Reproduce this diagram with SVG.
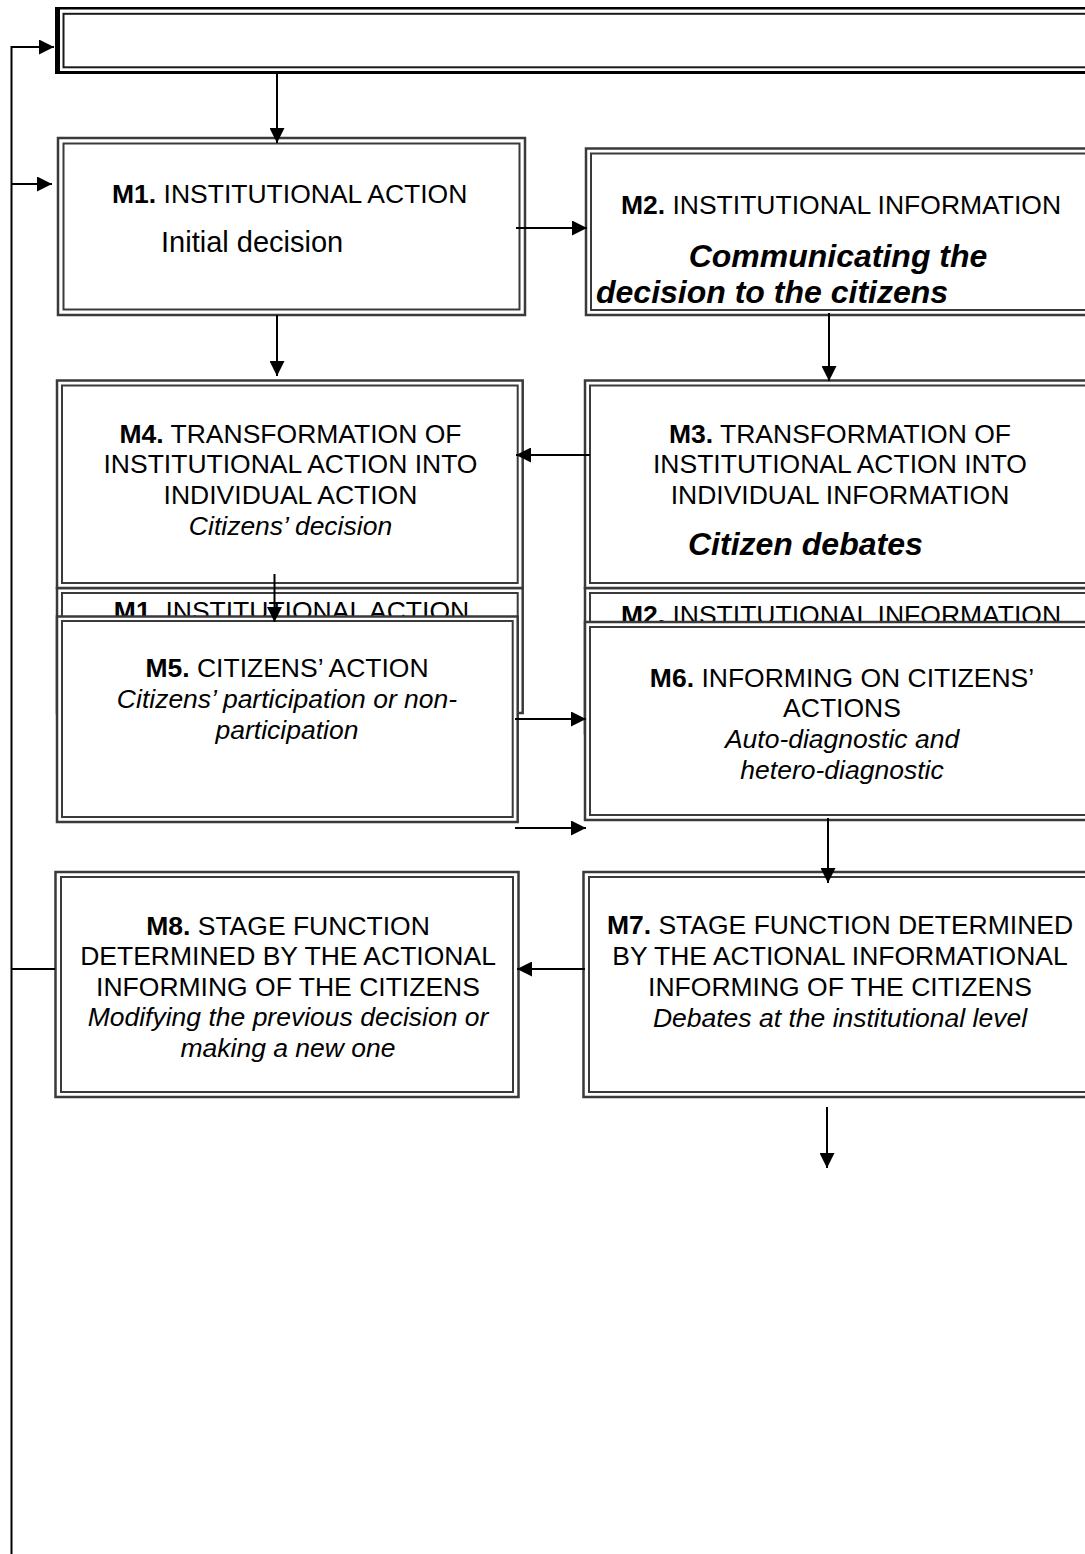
<svg xmlns="http://www.w3.org/2000/svg" width="1085" height="1554" viewBox="0 0 1085 1554">
<style>
.o{fill:#fff;stroke:#3a3a3a;stroke-width:2.5}
.h{fill:#fff;stroke:#3a3a3a;stroke-width:2.5}
.i{fill:none;stroke:#3a3a3a;stroke-width:2}
text{font-family:"Liberation Sans",Arial,sans-serif;font-size:26.5px;fill:#000}
.c{text-anchor:middle}
.it{font-style:italic}
.bi{font-style:italic;font-weight:bold;font-size:32px}
.b{font-weight:bold}
.cn{fill:none;stroke:#000;stroke-width:2}
</style>
<defs>
<marker id="ah" viewBox="0 0 10 10" refX="10" refY="5" markerUnits="userSpaceOnUse" markerWidth="16" markerHeight="15" orient="auto">
<path d="M0,0 L10,5 L0,10 z" fill="#000"/>
</marker>
</defs>
<rect width="1085" height="1554" fill="#fff"/>

<g id="top">
<rect x="55" y="7" width="5" height="67" fill="#000"/>
<line x1="55" y1="8.3" x2="1100" y2="8.3" stroke="#000" stroke-width="2.6"/>
<line x1="55" y1="72.5" x2="1100" y2="72.5" stroke="#000" stroke-width="3"/>
<rect x="63.5" y="13.8" width="1100" height="53.5" fill="none" stroke="#1a1a1a" stroke-width="2"/>
</g>

<g id="M1">
<rect class="o" x="58" y="138" width="467" height="177"/>
<rect class="i" x="63.5" y="143.5" width="456" height="166"/>
<text x="112" y="203"><tspan class="b">M1.</tspan> INSTITUTIONAL ACTION</text>
<text x="161" y="252" style="font-size:29px">Initial decision</text>
</g>

<g id="M2">
<rect class="o" x="586" y="148.5" width="520" height="166.5"/>
<rect class="i" x="591" y="153.5" width="520" height="156.5"/>
<text class="c" x="841" y="214"><tspan class="b">M2.</tspan> INSTITUTIONAL INFORMATION</text>
<text class="bi c" x="838" y="267">Communicating the</text>
<text class="bi" x="596" y="303">decision to the citizens</text>
</g>

<g id="M1copy">
<rect class="h" x="57" y="588" width="465.7" height="125"/>
<rect class="i" x="62" y="593" width="455.7" height="115"/>
<text class="c" x="291.5" y="619.5"><tspan class="b">M1.</tspan> INSTITUTIONAL ACTION</text>
</g>

<g id="M2copy">
<rect class="h" x="585" y="588" width="520" height="145"/>
<rect class="i" x="590" y="593" width="520" height="135"/>
<text class="c" x="841" y="623.5"><tspan class="b">M2.</tspan> INSTITUTIONAL INFORMATION</text>
</g>

<g id="M4">
<rect class="o" x="57" y="380.5" width="465.7" height="207.5"/>
<rect class="i" x="62" y="385.5" width="455.7" height="197.5"/>
<text class="c" x="290.5" y="442.5"><tspan class="b">M4.</tspan> TRANSFORMATION OF</text>
<text class="c" x="290.5" y="473">INSTITUTIONAL ACTION INTO</text>
<text class="c" x="290.5" y="503.5">INDIVIDUAL ACTION</text>
<text class="c it" x="290.5" y="535">Citizens’ decision</text>
</g>

<g id="M3">
<rect class="o" x="585" y="380.5" width="520" height="207.5"/>
<rect class="i" x="590" y="385.5" width="520" height="197.5"/>
<text class="c" x="840" y="442.5"><tspan class="b">M3.</tspan> TRANSFORMATION OF</text>
<text class="c" x="840" y="473">INSTITUTIONAL ACTION INTO</text>
<text class="c" x="840" y="503.5">INDIVIDUAL INFORMATION</text>
<text class="bi" x="688" y="555">Citizen debates</text>
</g>

<g id="M5">
<rect class="o" x="57" y="616.5" width="460.7" height="205.5"/>
<rect class="i" x="62" y="621" width="450.7" height="196"/>
<text class="c" x="287" y="676.5"><tspan class="b">M5.</tspan> CITIZENS’ ACTION</text>
<text class="c it" x="287" y="707.5">Citizens’ participation or non-</text>
<text class="c it" x="287" y="738.5">participation</text>
</g>

<g id="M6">
<rect class="o" x="585" y="622" width="520" height="198"/>
<rect class="i" x="590" y="627" width="520" height="188"/>
<text class="c" x="842" y="686.5"><tspan class="b">M6.</tspan> INFORMING ON CITIZENS’</text>
<text class="c" x="842" y="717">ACTIONS</text>
<text class="c it" x="842" y="748">Auto-diagnostic and</text>
<text class="c it" x="842" y="779">hetero-diagnostic</text>
</g>

<g id="M8">
<rect class="o" x="55.5" y="872" width="463" height="225"/>
<rect class="i" x="61" y="877" width="452" height="215"/>
<text class="c" x="288" y="934.5"><tspan class="b">M8.</tspan> STAGE FUNCTION</text>
<text class="c" x="288" y="965">DETERMINED BY THE ACTIONAL</text>
<text class="c" x="288" y="995.5">INFORMING OF THE CITIZENS</text>
<text class="c it" x="288" y="1026">Modifying the previous decision or</text>
<text class="c it" x="288" y="1056.5">making a new one</text>
</g>

<g id="M7">
<rect class="o" x="583.5" y="872" width="520" height="225"/>
<rect class="i" x="589" y="877" width="520" height="215"/>
<text class="c" x="840" y="933.5"><tspan class="b">M7.</tspan> STAGE FUNCTION DETERMINED</text>
<text class="c" x="840" y="964.5">BY THE ACTIONAL INFORMATIONAL</text>
<text class="c" x="840" y="995.5">INFORMING OF THE CITIZENS</text>
<text class="c it" x="840" y="1026.5">Debates at the institutional level</text>
</g>

<g id="connectors">
<polyline class="cn" points="11.5,1554 11.5,47 54,47" marker-end="url(#ah)"/>
<line class="cn" x1="11.5" y1="184" x2="52" y2="184" marker-end="url(#ah)"/>
<line class="cn" x1="277" y1="74" x2="277" y2="143" marker-end="url(#ah)"/>
<line class="cn" x1="516" y1="228" x2="587" y2="228" marker-end="url(#ah)"/>
<line class="cn" x1="277" y1="315" x2="277" y2="376" marker-end="url(#ah)"/>
<line class="cn" x1="829" y1="313" x2="829" y2="381" marker-end="url(#ah)"/>
<line class="cn" x1="590" y1="455" x2="516" y2="455" marker-end="url(#ah)"/>
<line class="cn" x1="274.5" y1="574" x2="274.5" y2="622" marker-end="url(#ah)"/>
<line class="cn" x1="515" y1="719" x2="586" y2="719" marker-end="url(#ah)"/>
<line class="cn" x1="515" y1="828" x2="586" y2="828" marker-end="url(#ah)"/>
<line class="cn" x1="828" y1="818" x2="828" y2="883" marker-end="url(#ah)"/>
<line class="cn" x1="585" y1="969" x2="517" y2="969" marker-end="url(#ah)"/>
<line class="cn" x1="11.5" y1="969" x2="55" y2="969"/>
<line class="cn" x1="827" y1="1107" x2="827" y2="1168" marker-end="url(#ah)"/>
</g>
</svg>
